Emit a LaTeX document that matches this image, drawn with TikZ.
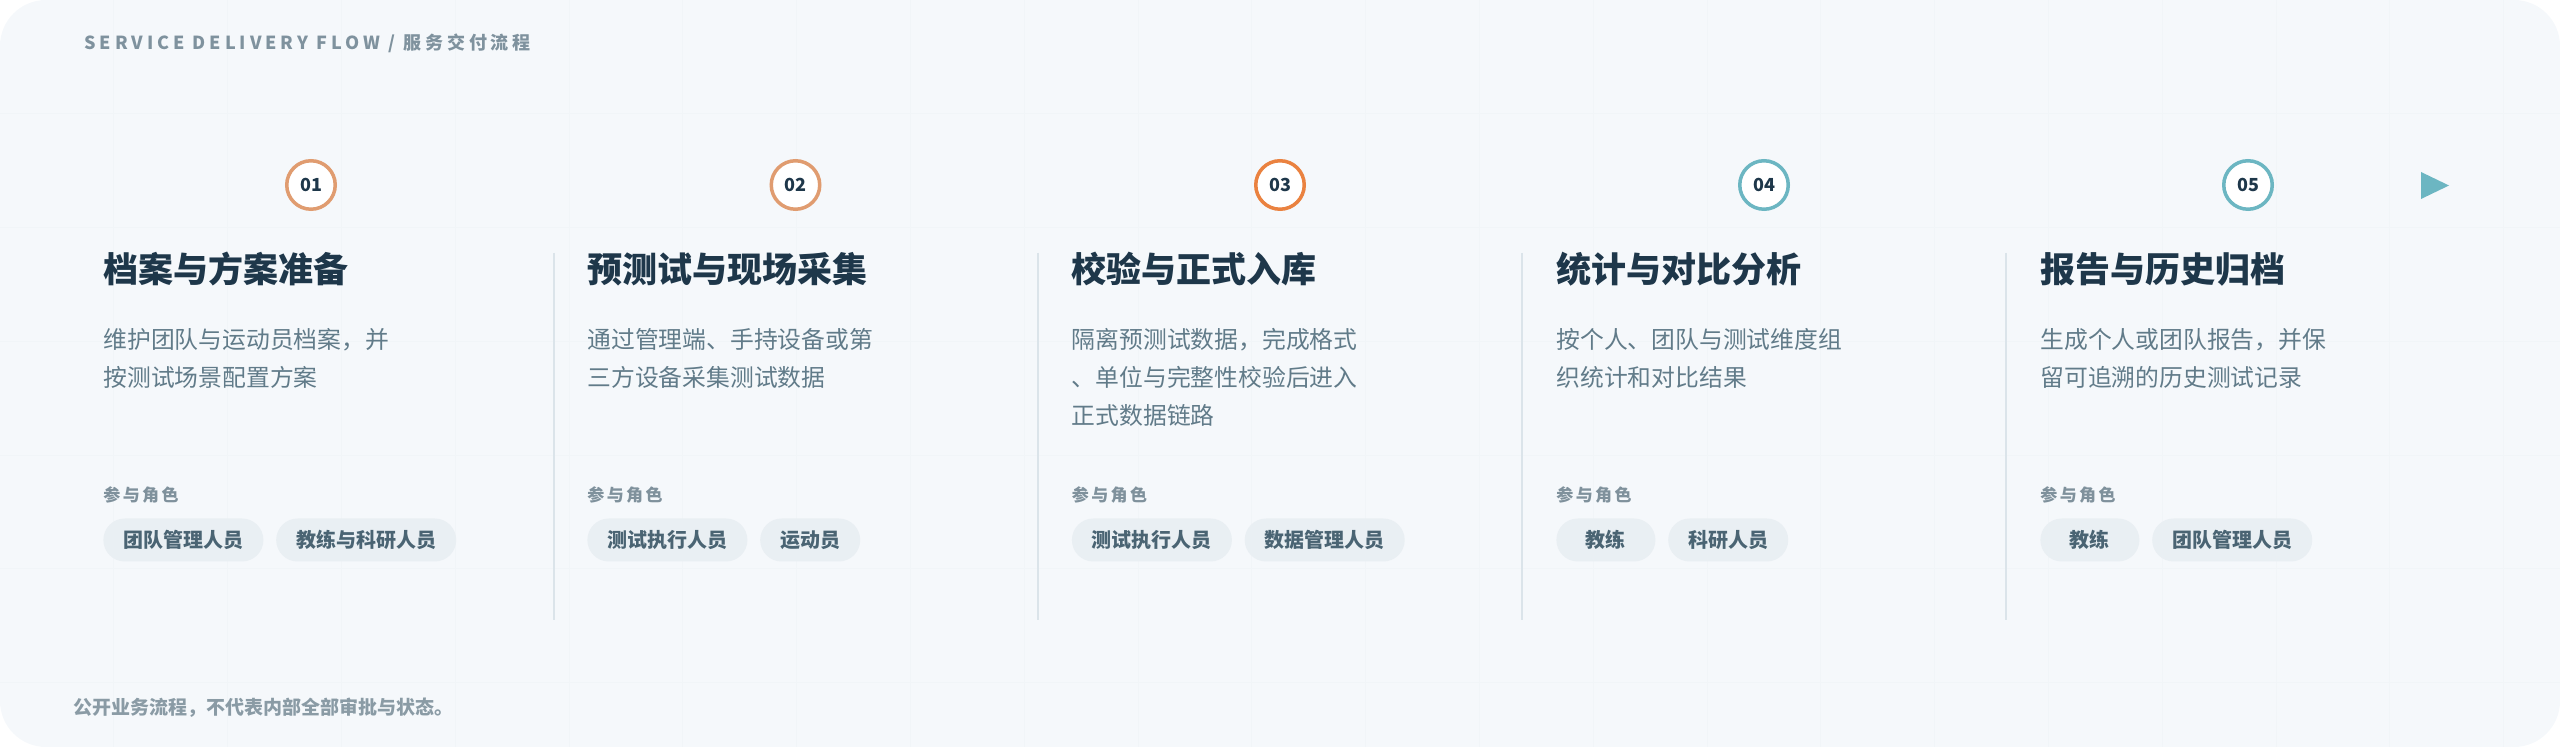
\documentclass[tikz,border=0pt]{standalone}
\usepackage{fontspec}
\setmainfont{Noto Sans CJK SC}
\newfontfamily\hdfont[LetterSpace=22]{Noto Sans CJK SC}
\newfontfamily\rolefont[LetterSpace=14]{Noto Sans CJK SC}
\usetikzlibrary{positioning}

\definecolor{bgc}{HTML}{F5F8FB}
\definecolor{gridc}{HTML}{F1F5F8}
\definecolor{hdc}{HTML}{7F929E}
\definecolor{ink}{HTML}{1E374A}
\definecolor{dscc}{HTML}{617B89}
\definecolor{rolec}{HTML}{7F919C}
\definecolor{pillc}{HTML}{E9EFF3}
\definecolor{pilltx}{HTML}{4A6473}
\definecolor{sepc}{HTML}{DBE4EA}
\definecolor{footc}{HTML}{8A9BA5}
\definecolor{orlight}{HTML}{E09C70}
\definecolor{ordark}{HTML}{EA8240}
\definecolor{tealc}{HTML}{6CB6C2}

\begin{document}
\begin{tikzpicture}[
        x=0.5pt, y=-0.5pt, node distance=6pt,
        num/.style={circle, draw, line width=1.75pt, fill=white, minimum size=24.25pt, inner sep=0pt,
            text=ink, font=\bfseries\fontsize{9}{10}\selectfont},
        ttl/.style={anchor=west, inner sep=0pt, text=ink, font=\bfseries\fontsize{17.5}{21}\selectfont},
        dsc/.style={anchor=base west, inner sep=0pt, text width=160pt, align=left, text=dscc,
            font=\fontsize{11.9}{19}\selectfont},
        role/.style={anchor=west, inner sep=0pt, text=rolec, font=\rolefont\bfseries\fontsize{8.5}{10}\selectfont},
        pill/.style={rounded corners=10.7pt, fill=pillc, minimum height=21.5pt, minimum width=49.5pt,
            inner xsep=10pt, inner ysep=0pt, text=pilltx, font=\bfseries\fontsize{10}{12}\selectfont},
        sep/.style={draw=sepc, line width=1pt}
    ]
        \useasboundingbox (0,0) rectangle (2560,747);

        % 背景与网格
        \fill[bgc, rounded corners=23pt] (0,0) rectangle (2560,747);
        \begin{scope}
            \clip[rounded corners=23pt] (0,0) rectangle (2560,747);
            \foreach \i in {1,...,22} \draw[gridc, line width=0.5pt] (113.8*\i,0) -- (113.8*\i,747);
            \foreach \j in {1,...,6} \draw[gridc, line width=0.5pt] (0,113.8*\j) -- (2560,113.8*\j);
        \end{scope}

        \node[anchor=west, inner sep=0pt, text=hdc, font=\hdfont\bfseries\fontsize{9}{11}\selectfont]
            (head) at (84,43) {SERVICE DELIVERY FLOW / 服务交付流程};

        % 步骤编号
        \node[num, draw=orlight] (n1) at (311,185) {01};
        \node[num, draw=orlight] (n2) at (795.5,185) {02};
        \node[num, draw=ordark] (n3) at (1280,185) {03};
        \node[num, draw=tealc] (n4) at (1764,185) {04};
        \node[num, draw=tealc] (n5) at (2248,185) {05};
        \fill[tealc] (2421,172) -- (2421,199) -- (2449,185.5) -- cycle;

        % 分隔线
        \draw[sep] (553.5,253) -- (553.5,620);
        \draw[sep] (1038,253) -- (1038,620);
        \draw[sep] (1522,253) -- (1522,620);
        \draw[sep] (2006,253) -- (2006,620);

        % 01
        \node[ttl] (t1) at (103,269) {档案与方案准备};
        \node[dsc] (d1) at (103,349) {维护团队与运动员档案，并\\按测试场景配置方案};
        \node[role] (r1) at (103,495) {参与角色};
        \node[pill, anchor=west] (p1a) at (103,540) {团队管理人员};
        \node[pill, right=of p1a] (p1b) {教练与科研人员};

        % 02
        \node[ttl] (t2) at (587,269) {预测试与现场采集};
        \node[dsc] (d2) at (587,349) {通过管理端、手持设备或第\\三方设备采集测试数据};
        \node[role] (r2) at (587,495) {参与角色};
        \node[pill, anchor=west] (p2a) at (587,540) {测试执行人员};
        \node[pill, right=of p2a] (p2b) {运动员};

        % 03
        \node[ttl] (t3) at (1071.5,269) {校验与正式入库};
        \node[dsc] (d3) at (1071.5,349) {隔离预测试数据，完成格式\\、单位与完整性校验后进入\\正式数据链路};
        \node[role] (r3) at (1071.5,495) {参与角色};
        \node[pill, anchor=west] (p3a) at (1071.5,540) {测试执行人员};
        \node[pill, right=of p3a] (p3b) {数据管理人员};

        % 04
        \node[ttl] (t4) at (1556,269) {统计与对比分析};
        \node[dsc] (d4) at (1556,349) {按个人、团队与测试维度组\\织统计和对比结果};
        \node[role] (r4) at (1556,495) {参与角色};
        \node[pill, anchor=west] (p4a) at (1556,540) {教练};
        \node[pill, right=of p4a] (p4b) {科研人员};

        % 05
        \node[ttl] (t5) at (2040,269) {报告与历史归档};
        \node[dsc] (d5) at (2040,349) {生成个人或团队报告，并保\\留可追溯的历史测试记录};
        \node[role] (r5) at (2040,495) {参与角色};
        \node[pill, anchor=west] (p5a) at (2040,540) {教练};
        \node[pill, right=of p5a] (p5b) {团队管理人员};

        \node[anchor=west, inner sep=0pt, text=footc, font=\bfseries\fontsize{9.5}{11}\selectfont]
            (foot) at (73,708) {公开业务流程，不代表内部全部审批与状态。};
    \end{tikzpicture}
\end{document}
